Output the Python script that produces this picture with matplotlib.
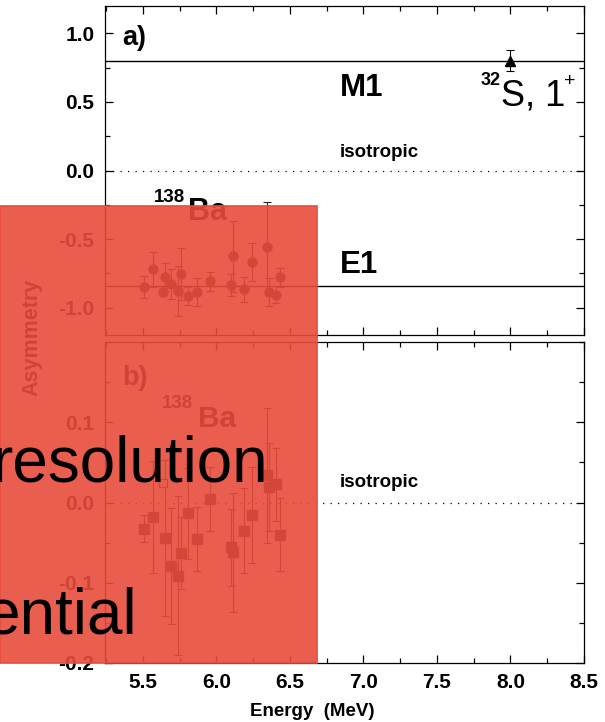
import matplotlib
matplotlib.use("Agg")
import matplotlib.pyplot as plt
from matplotlib.patches import Rectangle
from matplotlib.ticker import MultipleLocator

plt.rcParams['font.family'] = ['Liberation Sans', 'DejaVu Sans']

# ---- data ----
energy = [5.505, 5.572, 5.640, 5.650, 5.690, 5.741, 5.757, 5.809, 5.868,
          5.960, 6.100, 6.110, 6.187, 6.244, 6.345, 6.355, 6.408, 6.435]
asym_a = [-0.849, -0.722, -0.885, -0.778, -0.825, -0.880, -0.752, -0.917, -0.885,
          -0.807, -0.836, -0.627, -0.866, -0.668, -0.558, -0.885, -0.905, -0.780]
err_a = [0.08, 0.13, 0.03, 0.10, 0.11, 0.185, 0.19, 0.065, 0.10,
         0.07, 0.08, 0.256, 0.09, 0.14, 0.33, 0.10, 0.065, 0.07]

energy_b = [5.505, 5.572, 5.650, 5.690, 5.741, 5.757, 5.809, 5.868,
            5.960, 6.100, 6.110, 6.187, 6.244, 6.345, 6.355, 6.408, 6.435]
asym_b = [-0.0325, -0.018, -0.044, -0.079, -0.091, -0.063, -0.0134, -0.045,
          0.0045, -0.056, -0.062, -0.035, -0.016, 0.034, 0.019, 0.0225, -0.040]
err_b = [0.017, 0.07, 0.097, 0.072, 0.099, 0.045, 0.057, 0.04,
         0.04, 0.048, 0.074, 0.053, 0.06, 0.084, 0.055, 0.045, 0.045]
open_E = [5.640]
open_A = [0.0245]

s32_E = [8.0]
s32_A = [0.80]
s32_err = [0.076]

m1_level = 0.80
e1_level = -0.84

x_ticks = [5.5, 6.0, 6.5, 7.0, 7.5, 8.0, 8.5]
ya_ticks = [-1.0, -0.5, 0.0, 0.5, 1.0]
yb_ticks = [-0.2, -0.1, 0.0, 0.1]

W, H = 605, 722
fig = plt.figure(figsize=(W / 100, H / 100), dpi=100)

def fx(px):
    return px / W

def fy(py):
    return 1 - py / H

ax1 = fig.add_axes([fx(105), fy(335), fx(584) - fx(105), fy(6) - fy(335)])
ax2 = fig.add_axes([fx(105), fy(663), fx(584) - fx(105), fy(342) - fy(663)])

xlim = (5.243, 8.5)
dot_style = dict(color='black', lw=0.9, linestyle=(0, (1, 5)))

for ax in (ax1, ax2):
    ax.set_xlim(*xlim)
    ax.xaxis.set_major_locator(MultipleLocator(0.5))
    ax.xaxis.set_minor_locator(MultipleLocator(0.25))
    ax.tick_params(which='both', direction='in', top=True, right=True, width=0.9)
    ax.tick_params(which='major', length=6)
    ax.tick_params(which='minor', length=3.8)
    ax.tick_params(axis='y', pad=7.5, labelsize=15)
    ax.tick_params(axis='x', pad=7, labelsize=15)
    for sp in ax.spines.values():
        sp.set_linewidth(0.9)
    ax.axhline(0.0, **dot_style)

# ---- panel a ----
ax1.set_ylim(-1.2, 1.2)
ax1.set_yticks(ya_ticks)
ax1.yaxis.set_minor_locator(MultipleLocator(0.25))
ax1.set_yticklabels([f"{v:.1f}" for v in ya_ticks], fontweight='bold')
ax1.tick_params(axis='x', labelbottom=False)
ax1.axhline(m1_level, color='black', lw=1.0)
ax1.axhline(e1_level, color='black', lw=1.0)
ax1.errorbar(energy, asym_a, yerr=err_a, fmt='o', color='#222222', ms=6.5,
             elinewidth=0.8, capsize=3, capthick=0.8)
ax1.errorbar(s32_E, s32_A, yerr=s32_err, fmt='^', color='black', ms=6.5,
             elinewidth=0.8, capsize=3, capthick=0.8)

ax1.text(5.359, 0.963, "a)", fontsize=19.5, fontweight='bold', va='center', ha='left')
ax1.text(6.84, 0.541, "M1", fontsize=22.5, fontweight='bold', va='baseline')
ax1.text(6.84, -0.746, "E1", fontsize=22.5, fontweight='bold', va='baseline')
ax1.text(6.84, 0.098, "isotropic", fontsize=13.5, fontweight='bold', va='baseline')
ax1.text(7.93, 0.627, "32", fontsize=13, fontweight='bold', ha='right', va='baseline')
ax1.text(7.937, 0.473, "S, 1", fontsize=26, ha='left', va='baseline')
ax1.text(8.406, 0.651, "+", fontsize=14, ha='center', va='center')
ax1.text(5.788, -0.227, "138", fontsize=13.5, fontweight='bold', ha='right', va='baseline')
ax1.text(5.805, -0.361, "Ba", fontsize=22, fontweight='bold', ha='left', va='baseline')

# ---- panel b ----
ax2.set_ylim(-0.2, 0.2)
ax2.set_yticks(yb_ticks)
ax2.yaxis.set_minor_locator(MultipleLocator(0.05))
ax2.set_yticklabels([f"{v:.1f}" for v in yb_ticks], fontweight='bold')
ax2.set_xticks(x_ticks)
ax2.set_xticklabels([f"{v:.1f}" for v in x_ticks], fontweight='bold')
ax2.errorbar(energy_b, asym_b, yerr=err_b, fmt='s', color='#222222', ms=6.5,
             elinewidth=0.8, capsize=3, capthick=0.8)
ax2.plot(open_E, open_A, 's', mfc='white', mec='#222222', ms=6, mew=0.9)

ax2.text(5.357, 0.155, "b)", fontsize=19.5, fontweight='bold', va='center', ha='left')
ax2.text(6.84, 0.019, "isotropic", fontsize=13.5, fontweight='bold', va='baseline')
ax2.text(5.845, 0.118, "138", fontsize=13.5, fontweight='bold', ha='right', va='baseline')
ax2.text(5.872, 0.0945, "Ba", fontsize=21.5, fontweight='bold', ha='left', va='baseline')

fig.text(fx(312), fy(711), "Energy  (MeV)", fontsize=13.5, fontweight='bold',
         ha='center', va='center')
fig.text(fx(32), fy(337), "Asymmetry", fontsize=15.5, fontweight='bold',
         rotation=90, ha='center', va='center')

# ---- overlay ----
rect = Rectangle((0, fy(663)), fx(316.7), fy(205.7) - fy(663),
                 transform=fig.transFigure, facecolor=(231/255, 76/255, 60/255, 0.9),
                 edgecolor='#e74c3c', linewidth=1.2, zorder=10)
fig.add_artist(rect)
fig.text(fx(268), fy(481.7), "resolution", fontsize=46, color='black',
         ha='right', va='baseline', zorder=11)
fig.text(fx(137), fy(634), "ential", fontsize=46, color='black',
         ha='right', va='baseline', zorder=11)

fig.savefig("out.png", dpi=100)
